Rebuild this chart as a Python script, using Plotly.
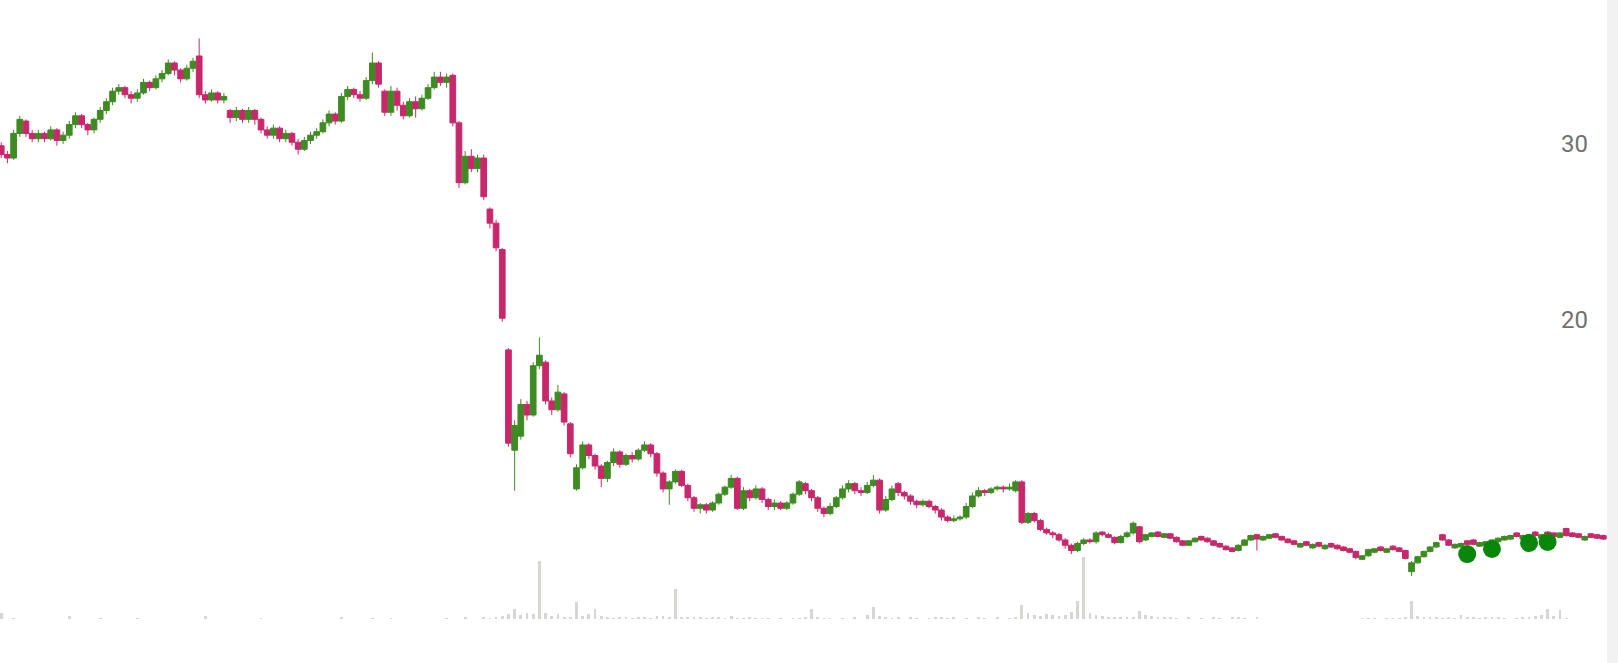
import plotly.graph_objects as go

# ---------------- data ----------------
open_ = [
    29.9, 29.4, 29.2, 30.6, 31.3, 30.6, 30.3, 30.6, 30.3, 30.8,
    30.2, 30.5, 31.1, 31.6, 31.1, 30.8, 31.4, 31.9, 32.4, 33.0,
    33.2, 32.8, 32.6, 32.9, 33.5, 33.2, 33.7, 34.0, 34.6, 34.2,
    33.7, 34.3, 35.0, 32.8, 32.5, 32.9, 32.5, 31.9, 31.5, 31.9,
    31.4, 31.9, 31.4, 30.8, 30.5, 30.9, 30.3, 30.6, 30.1, 29.7,
    30.2, 30.5, 30.7, 31.2, 31.7, 31.3, 32.7, 33.1, 32.8, 32.6,
    33.6, 34.6, 33.0, 31.8, 33.0, 32.2, 31.6, 32.4, 32.0, 32.6,
    33.2, 33.8, 33.5, 33.9, 31.2, 27.8, 29.3, 28.6, 29.2, 26.3,
    25.5, 24.0, 18.3, 12.6, 13.4, 15.2, 14.6, 17.4, 17.6, 15.4,
    14.9, 15.8, 14.1, 10.4, 11.6, 12.9, 12.3, 11.7, 11.0, 11.9,
    12.5, 11.8, 12.3, 12.1, 12.6, 12.9, 12.4, 11.3, 10.4, 10.8,
    11.4, 10.6, 9.9, 9.3, 9.5, 9.2, 9.6, 10.1, 10.5, 11.0,
    9.3, 10.3, 9.9, 10.4, 9.8, 9.4, 9.6, 9.3, 9.6, 10.1,
    10.7, 10.3, 9.9, 9.3, 9.0, 9.4, 9.9, 10.4, 10.7, 10.3,
    10.2, 10.6, 10.9, 9.2, 9.8, 10.7, 10.2, 10.0, 9.7, 9.5,
    9.7, 9.4, 9.2, 8.8, 8.6, 8.7, 8.8, 9.4, 10.0, 10.3,
    10.2, 10.4, 10.5, 10.4, 10.3, 10.8, 8.5, 9.0, 8.6, 8.1,
    7.9, 7.8, 7.5, 7.2, 6.9, 7.3, 7.5, 7.4, 7.95, 7.8,
    7.65, 7.35, 7.7, 7.9, 8.25, 7.5, 7.7, 7.95, 7.65, 7.85,
    7.65, 7.45, 7.2, 7.4, 7.7, 7.6, 7.45, 7.3, 7.15, 7.05,
    6.9, 7.2, 7.5, 7.8, 7.5, 7.6, 7.85, 7.7, 7.55, 7.45,
    7.1, 7.4, 7.05, 7.35, 7.0, 7.3, 7.2, 7.1, 7.0, 6.85,
    6.4, 6.6, 6.8, 7.1, 6.8, 7.15, 7.05, 6.9, 5.7, 6.2,
    6.55, 6.85, 7.1, 7.8, 7.5, 7.05, 7.1, 7.45, 7.5, 7.15,
    7.2, 7.3, 7.4, 7.5, 7.55, 7.9, 7.55, 7.6, 7.95, 7.6,
    7.95, 7.9, 7.65, 8.15, 7.9, 7.85, 7.5, 7.85, 7.8, 7.75,
]
close = [
    29.4, 29.2, 30.6, 31.4, 30.6, 30.3, 30.6, 30.3, 30.8, 30.2,
    30.5, 31.1, 31.6, 31.1, 30.8, 31.4, 31.9, 32.4, 33.0, 33.2,
    32.8, 32.6, 32.9, 33.5, 33.2, 33.7, 34.0, 34.6, 34.2, 33.7,
    34.3, 34.7, 32.8, 32.5, 32.9, 32.5, 32.7, 31.5, 31.9, 31.4,
    31.9, 31.4, 30.8, 30.5, 30.9, 30.3, 30.6, 30.1, 29.7, 30.2,
    30.5, 30.7, 31.2, 31.7, 31.3, 32.7, 33.1, 32.8, 32.6, 33.6,
    34.6, 33.4, 31.8, 33.0, 32.2, 31.6, 32.4, 32.0, 32.6, 33.2,
    33.8, 33.5, 33.8, 31.2, 27.8, 29.3, 28.6, 29.2, 27.0, 25.5,
    24.1, 20.1, 13.0, 14.0, 15.2, 14.6, 17.4, 18.0, 15.4, 14.9,
    15.9, 14.2, 12.4, 11.6, 12.9, 12.3, 11.7, 11.0, 11.9, 12.5,
    11.8, 12.3, 12.1, 12.6, 12.9, 12.4, 11.3, 10.4, 10.8, 11.4,
    10.6, 9.9, 9.3, 9.5, 9.2, 9.6, 10.1, 10.5, 11.0, 9.3,
    10.3, 9.9, 10.4, 9.8, 9.4, 9.6, 9.3, 9.6, 10.1, 10.8,
    10.3, 9.9, 9.3, 9.0, 9.4, 9.9, 10.4, 10.7, 10.3, 10.2,
    10.6, 10.9, 9.2, 9.8, 10.4, 10.2, 10.0, 9.7, 9.5, 9.7,
    9.4, 9.2, 8.8, 8.6, 8.7, 8.8, 9.4, 10.0, 10.3, 10.2,
    10.4, 10.5, 10.4, 10.5, 10.8, 8.5, 9.0, 8.6, 8.1, 7.9,
    7.8, 7.5, 7.2, 6.9, 7.3, 7.5, 7.4, 7.9, 7.8, 7.65,
    7.35, 7.7, 7.9, 8.45, 7.4, 7.8, 7.9, 7.7, 7.85, 7.6,
    7.4, 7.2, 7.45, 7.6, 7.5, 7.4, 7.2, 7.1, 6.95, 6.85,
    7.2, 7.5, 7.75, 7.55, 7.7, 7.8, 7.65, 7.5, 7.35, 7.25,
    7.3, 7.2, 7.25, 7.15, 7.2, 7.1, 7.0, 6.9, 6.8, 6.5,
    6.6, 6.95, 7.0, 6.9, 7.0, 6.95, 6.85, 6.45, 6.2, 6.55,
    6.85, 7.1, 7.35, 7.5, 7.2, 7.25, 7.3, 7.25, 7.25, 7.35,
    7.4, 7.5, 7.6, 7.7, 7.75, 7.7, 7.75, 7.8, 7.75, 7.8,
    7.75, 7.7, 7.9, 7.75, 7.7, 7.65, 7.7, 7.65, 7.6, 7.55,
]
high = [
    30.1, 29.6, 30.8, 31.6, 31.4, 30.8, 30.8, 30.7, 31.0, 30.9,
    30.7, 31.3, 31.8, 31.7, 31.2, 31.5, 32.1, 32.6, 33.2, 33.4,
    33.3, 33.0, 33.1, 33.7, 33.6, 33.9, 34.2, 34.8, 34.7, 34.3,
    34.5, 34.9, 36.0, 33.0, 33.1, 33.0, 32.9, 32.0, 32.1, 32.0,
    32.1, 32.0, 31.5, 31.0, 31.1, 31.0, 30.8, 30.7, 30.3, 30.4,
    30.7, 30.9, 31.4, 31.9, 31.8, 32.9, 33.3, 33.2, 33.0, 33.8,
    35.2, 34.7, 33.1, 33.3, 33.2, 32.4, 32.6, 32.7, 32.8, 33.4,
    34.1, 34.1, 34.0, 34.0, 31.3, 29.6, 29.7, 29.4, 29.4, 26.4,
    25.7, 24.1, 18.4, 14.3, 15.5, 15.4, 17.6, 19.0, 17.7, 15.6,
    16.3, 15.9, 14.2, 11.8, 13.1, 13.0, 12.4, 11.8, 12.0, 12.7,
    12.6, 12.4, 12.5, 12.7, 13.1, 13.0, 12.5, 11.4, 10.9, 11.5,
    11.5, 10.7, 10.0, 9.6, 9.6, 9.7, 10.2, 10.6, 11.2, 11.1,
    10.5, 10.4, 10.6, 10.5, 9.9, 9.8, 9.7, 9.7, 10.2, 10.9,
    10.8, 10.4, 10.0, 9.4, 9.6, 10.0, 10.6, 10.9, 10.8, 10.5,
    10.8, 11.2, 11.0, 10.0, 10.6, 10.8, 10.3, 10.1, 9.8, 9.8,
    9.8, 9.5, 9.3, 8.9, 8.9, 8.9, 9.6, 10.2, 10.5, 10.4,
    10.5, 10.6, 10.6, 10.7, 10.9, 10.9, 9.1, 9.1, 8.7, 8.2,
    8.0, 7.9, 7.6, 7.3, 7.4, 7.6, 7.6, 8.0, 8.0, 7.9,
    7.7, 7.8, 8.0, 8.55, 8.3, 7.85, 7.95, 8.0, 7.9, 7.9,
    7.7, 7.5, 7.5, 7.65, 7.75, 7.65, 7.5, 7.35, 7.2, 7.1,
    7.25, 7.55, 7.8, 7.85, 7.75, 7.85, 7.9, 7.75, 7.6, 7.5,
    7.35, 7.45, 7.3, 7.4, 7.25, 7.35, 7.25, 7.15, 7.05, 6.9,
    6.65, 7.0, 7.05, 7.15, 7.05, 7.2, 7.1, 6.95, 6.3, 6.6,
    6.9, 7.15, 7.4, 7.85, 7.55, 7.3, 7.35, 7.5, 7.55, 7.4,
    7.45, 7.55, 7.65, 7.75, 7.8, 7.95, 7.8, 7.85, 8.0, 7.85,
    8.0, 7.95, 7.95, 8.2, 7.95, 7.9, 7.75, 7.9, 7.85, 7.8,
]
low = [
    29.2, 28.9, 29.1, 30.4, 30.4, 30.1, 30.1, 30.1, 30.2, 29.9,
    30.0, 30.3, 30.9, 30.9, 30.5, 30.6, 31.2, 31.7, 32.2, 32.8,
    32.6, 32.3, 32.4, 32.8, 33.0, 33.1, 33.5, 33.9, 33.9, 33.5,
    33.6, 34.1, 32.6, 32.3, 32.4, 32.3, 32.3, 31.2, 31.3, 31.2,
    31.2, 31.1, 30.6, 30.3, 30.3, 30.1, 30.1, 29.9, 29.4, 29.6,
    30.0, 30.3, 30.6, 31.0, 31.1, 31.2, 32.5, 32.6, 32.4, 32.5,
    33.4, 33.2, 31.6, 31.6, 31.9, 31.4, 31.5, 31.5, 31.9, 32.5,
    33.1, 33.3, 33.2, 31.0, 27.5, 27.7, 28.4, 28.4, 26.8, 25.2,
    23.9, 19.9, 12.8, 10.3, 13.2, 14.3, 14.5, 17.2, 15.2, 14.6,
    14.8, 14.0, 12.2, 10.3, 11.5, 12.1, 11.5, 10.5, 10.8, 11.7,
    11.6, 11.7, 11.9, 12.0, 12.5, 12.2, 11.1, 10.2, 9.5, 10.7,
    10.5, 9.7, 9.1, 9.0, 9.0, 9.1, 9.5, 10.0, 10.4, 9.2,
    9.2, 9.7, 9.8, 9.6, 9.2, 9.2, 9.2, 9.2, 9.5, 10.0,
    10.1, 9.7, 9.1, 8.8, 8.9, 9.3, 9.8, 10.2, 10.1, 10.0,
    10.1, 10.5, 9.0, 9.1, 9.7, 10.0, 9.8, 9.5, 9.3, 9.4,
    9.3, 9.0, 8.6, 8.5, 8.5, 8.6, 8.7, 9.3, 9.9, 10.0,
    10.1, 10.3, 10.2, 10.3, 10.2, 8.4, 8.4, 8.5, 8.0, 7.8,
    7.6, 7.4, 7.0, 6.7, 6.8, 7.2, 7.3, 7.3, 7.7, 7.6,
    7.25, 7.3, 7.6, 7.8, 7.3, 7.45, 7.65, 7.65, 7.6, 7.55,
    7.35, 7.15, 7.15, 7.35, 7.45, 7.35, 7.15, 7.05, 6.9, 6.8,
    6.85, 7.15, 7.45, 6.9, 7.45, 7.55, 7.6, 7.45, 7.3, 7.2,
    7.05, 7.15, 7.0, 7.1, 6.95, 7.05, 6.95, 6.85, 6.75, 6.4,
    6.35, 6.55, 6.75, 6.85, 6.75, 6.9, 6.8, 6.4, 5.45, 6.15,
    6.5, 6.8, 7.05, 7.45, 7.15, 7.0, 7.05, 7.2, 7.2, 7.1,
    7.15, 7.25, 7.35, 7.45, 7.5, 7.65, 7.5, 7.55, 7.7, 7.55,
    7.7, 7.65, 7.6, 7.7, 7.65, 7.6, 7.45, 7.6, 7.55, 7.5,
]
# traded volume (thousands of shares / 10)
volume = [
    65, 0, 10, 0, 0, 0, 0, 0, 0, 0,
    0, 26, 0, 0, 0, 0, 10, 0, 0, 0,
    0, 0, 10, 0, 0, 0, 0, 0, 0, 0,
    0, 0, 0, 26, 0, 0, 0, 0, 0, 0,
    0, 0, 10, 0, 0, 0, 0, 0, 0, 0,
    0, 0, 0, 0, 0, 16, 0, 0, 0, 0,
    10, 0, 0, 10, 0, 0, 0, 0, 0, 0,
    0, 0, 10, 0, 0, 16, 0, 0, 12, 10,
    12, 30, 50, 105, 40, 60, 55, 580, 65, 30,
    50, 15, 20, 170, 30, 50, 100, 30, 15, 10,
    12, 15, 10, 12, 15, 10, 30, 35, 25, 300,
    20, 25, 15, 20, 10, 12, 20, 10, 30, 10,
    8, 12, 8, 10, 10, 0, 10, 0, 10, 10,
    15, 100, 12, 10, 8, 0, 10, 0, 12, 0,
    40, 120, 30, 15, 10, 20, 0, 15, 10, 0,
    10, 20, 15, 10, 12, 0, 10, 0, 15, 10,
    0, 12, 0, 10, 20, 140, 60, 40, 30, 50,
    40, 35, 45, 70, 180, 620, 60, 40, 30, 25,
    20, 25, 20, 20, 80, 40, 30, 25, 20, 15,
    10, 0, 12, 0, 10, 0, 15, 10, 0, 12,
    20, 10, 0, 25, 0, 0, 0, 0, 0, 0,
    0, 0, 0, 0, 0, 0, 0, 0, 0, 0,
    8, 10, 8, 0, 10, 8, 10, 12, 180, 30,
    20, 15, 25, 10, 15, 10, 40, 15, 20, 10,
    15, 20, 12, 10, 0, 10, 15, 20, 30, 40,
    100, 30, 90, 10, 0, 0, 0, 0, 0, 0,
]
# buy-signal markers (bar index, price)
signal_idx = [237, 241, 247, 250]
signal_price = [6.70, 6.99, 7.33, 7.39]
price_ticks = [20, 30]

idx = list(range(len(close)))

# ---------------- figure ----------------
UP = "#3e8b22"
DOWN = "#c8286b"

fig = go.Figure()

fig.add_trace(go.Bar(
    x=idx, y=volume, yaxis="y2",
    marker=dict(color="#d6d6d2", line=dict(width=0)),
    width=0.45, showlegend=False, hoverinfo="skip",
))

fig.add_trace(go.Candlestick(
    x=idx, open=open_, high=high, low=low, close=close,
    increasing=dict(line=dict(color=UP, width=1), fillcolor=UP),
    decreasing=dict(line=dict(color=DOWN, width=1), fillcolor=DOWN),
    whiskerwidth=0, showlegend=False,
))

fig.add_trace(go.Scatter(
    x=signal_idx, y=signal_price, mode="markers",
    marker=dict(color="#0a870a", size=18, line=dict(width=0)),
    showlegend=False,
))

fig.update_layout(
    width=1618, height=663, autosize=False,
    margin=dict(l=0, r=11, t=0, b=0, pad=0),
    paper_bgcolor="white", plot_bgcolor="white",
    bargap=0, boxgap=0.08, boxgroupgap=0,
    xaxis=dict(range=[-0.2, 259.6], showgrid=False, zeroline=False,
               showticklabels=False, ticks="", showline=False,
               rangeslider=dict(visible=False)),
    yaxis=dict(range=[0.51, 38.18], side="right", tickvals=price_ticks,
               ticklabelposition="inside", ticklabelstandoff=16,
               showgrid=False, zeroline=False, showline=False, ticks="",
               tickfont=dict(family="Roboto", size=24, color="#707070")),
    yaxis2=dict(range=[-440, 6190], overlaying="y", side="left",
                visible=False, showgrid=False, zeroline=False),
    shapes=[dict(type="rect", xref="paper", yref="paper",
                 x0=1, x1=1 + 11 / 1607, y0=0, y1=1,
                 fillcolor="#f2f2f2", line=dict(width=0), layer="below")],
)

fig.write_html("out.html")
